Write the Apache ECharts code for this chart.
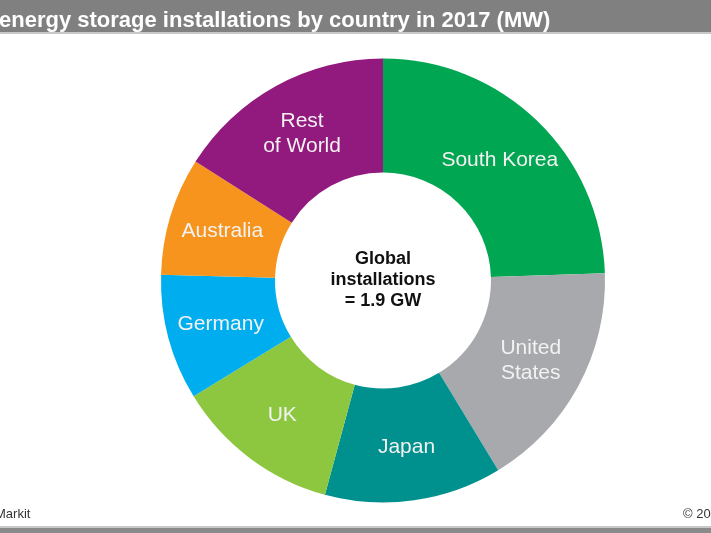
<!DOCTYPE html>
<html>
<head>
<meta charset="utf-8">
<style>
  html, body { margin: 0; padding: 0; background: #ffffff; }
  #chart { width: 711px; height: 533px; }
</style>
<script src="https://cdn.jsdelivr.net/npm/echarts@6/dist/echarts.min.js"></script>
</head>
<body>
<div id="chart"></div>
<script>
// Data (MW)
const categories = ['South Korea', 'United States', 'Japan', 'UK', 'Germany', 'Australia', 'Rest of World'];
const labelTexts = ['South Korea', 'United\nStates', 'Japan', 'UK', 'Germany', 'Australia', 'Rest\nof World'];
const valuesMW = [465, 320, 245, 229, 174, 163, 304];
const sliceColors = ['#00A651', '#A7A9AC', '#00918E', '#8DC63F', '#00AEEF', '#F7941D', '#92197D'];
const titleText = 'energy storage installations by country in 2017 (MW)';
const centerText = 'Global\ninstallations\n= 1.9 GW';
const sourceText = 'Markit';
const copyrightText = '© 20';

const chart = echarts.init(document.getElementById('chart'), null, { renderer: 'canvas' });

const data = categories.map((name, i) => ({
  name: name,
  value: valuesMW[i],
  itemStyle: { color: sliceColors[i] },
  label: { formatter: labelTexts[i] }
}));

chart.setOption({
  animation: false,
  backgroundColor: '#ffffff',
  graphic: [
    { type: 'rect', shape: { x: 0, y: 0, width: 711, height: 33 }, style: { fill: '#808080' }, z: 1 },
    { type: 'rect', shape: { x: 0, y: 32, width: 711, height: 2 }, style: { fill: '#c9c9c9' }, z: 1 },
    { type: 'text', x: -1, y: 20.5, z: 2,
      style: { text: titleText, fill: '#ffffff', font: 'bold 22px "Liberation Sans", Arial, sans-serif',
               textAlign: 'left', textVerticalAlign: 'middle' } },
    { type: 'text', x: 383, y: 280, z: 5,
      style: { text: centerText, fill: '#111111', font: 'bold 18px "Liberation Sans", Arial, sans-serif',
               lineHeight: 21, textAlign: 'center', textVerticalAlign: 'middle' } },
    { type: 'text', x: -5, y: 514, z: 2,
      style: { text: sourceText, fill: '#333333', font: '13px "Liberation Sans", Arial, sans-serif',
               textAlign: 'left', textVerticalAlign: 'middle' } },
    { type: 'text', x: 683, y: 514, z: 2,
      style: { text: copyrightText, fill: '#333333', font: '13px "Liberation Sans", Arial, sans-serif',
               textAlign: 'left', textVerticalAlign: 'middle' } },
    { type: 'rect', shape: { x: 0, y: 526, width: 711, height: 2 }, style: { fill: '#c9c9c9' }, z: 1 },
    { type: 'rect', shape: { x: 0, y: 528, width: 711, height: 5 }, style: { fill: '#8a8a8a' }, z: 1 }
  ],
  series: [{
    type: 'pie',
    center: [383, 280.5],
    radius: [108, 222],
    startAngle: 90,
    clockwise: true,
    avoidLabelOverlap: false,
    itemStyle: { borderWidth: 0 },
    label: {
      show: true,
      position: 'inside',
      color: '#f2f2f2',
      fontFamily: '"Liberation Sans", Arial, sans-serif',
      fontSize: 21,
      lineHeight: 25
    },
    labelLine: { show: false },
    emphasis: { disabled: true },
    data: data
  }]
});
</script>
</body>
</html>
